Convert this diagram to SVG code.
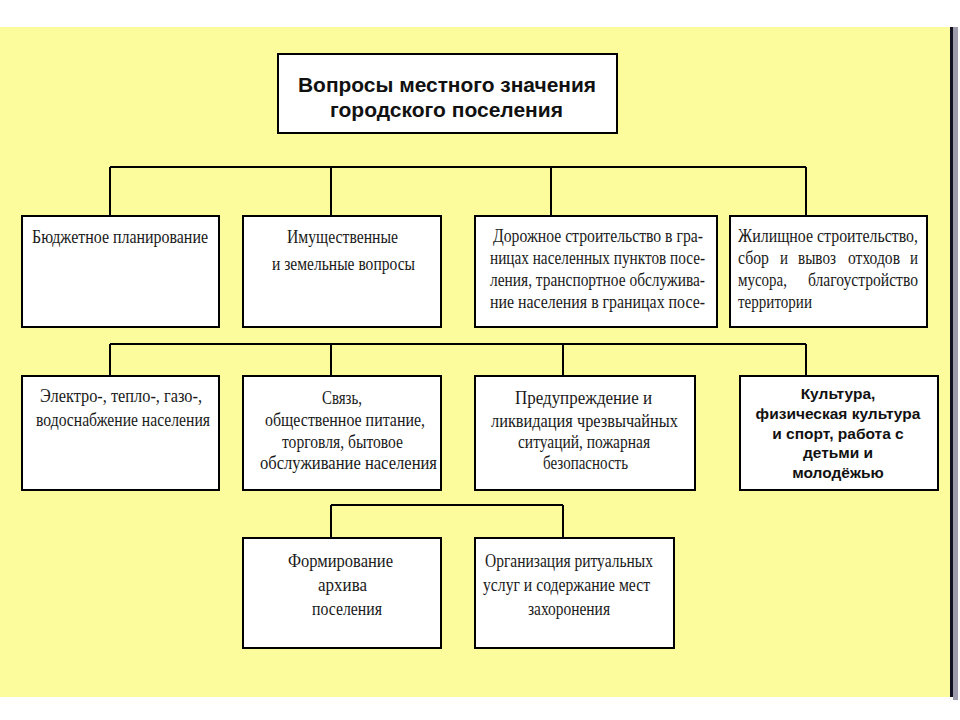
<svg xmlns="http://www.w3.org/2000/svg" width="960" height="720" viewBox="0 0 960 720">
<style>
.box{fill:#ffffff;stroke:#000000;stroke-width:2}
.con{fill:none;stroke:#000000;stroke-width:2}
.s{font-family:"Liberation Serif","Times New Roman",serif;font-size:19px;fill:#1a1a1a}
.s2{font-family:"Liberation Serif","Times New Roman",serif;font-size:18px;fill:#1a1a1a}
.a{font-family:"Liberation Sans",Arial,sans-serif;font-weight:bold;fill:#111111}
</style>
<rect x="0" y="0" width="960" height="720" fill="#ffffff"/>
<rect x="0" y="27" width="951" height="670" fill="#fcfc9c"/>
<rect x="953" y="27" width="5" height="673" fill="#9c9cac"/>
<rect x="950" y="27" width="3" height="670" fill="#111122"/>

<g id="connectors">
<path class="con" d="M110,167 H806 M110,167 V216 M331,167 V216 M551,167 V216 M806,167 V216"/>
<path class="con" d="M110,344 H806 M110,344 V376 M331,344 V376 M563,344 V376 M806,344 V376"/>
<path class="con" d="M331,505 H563 M331,505 V538 M563,505 V538"/>
</g>

<g id="top">
<rect class="box" x="278" y="54" width="339" height="79"/>
<text class="a" font-size="20" x="298" y="92" textLength="298" lengthAdjust="spacingAndGlyphs">Вопросы местного значения</text>
<text class="a" font-size="20" x="330" y="117" textLength="233" lengthAdjust="spacingAndGlyphs">городского поселения</text>
</g>

<g id="b1">
<rect class="box" x="22" y="216" width="197" height="111"/>
<text class="s" x="32" y="243" textLength="176" lengthAdjust="spacingAndGlyphs">Бюджетное планирование</text>
</g>
<g id="b2">
<rect class="box" x="243" y="216" width="198" height="111"/>
<text class="s" x="287" y="243" textLength="111" lengthAdjust="spacingAndGlyphs">Имущественные</text>
<text class="s" x="272" y="270" textLength="143" lengthAdjust="spacingAndGlyphs">и земельные вопросы</text>
</g>
<g id="b3">
<rect class="box" x="475" y="216" width="242" height="111"/>
<text class="s2" x="493" y="242" textLength="210" lengthAdjust="spacingAndGlyphs">Дорожное строительство в гра-</text>
<text class="s2" x="490" y="264" textLength="215" lengthAdjust="spacingAndGlyphs">ницах населенных пунктов посе-</text>
<text class="s2" x="490" y="286" textLength="215" lengthAdjust="spacingAndGlyphs">ления, транспортное обслужива-</text>
<text class="s2" x="490" y="308" textLength="215" lengthAdjust="spacingAndGlyphs">ние населения в границах посе-</text>
</g>
<g id="b4">
<rect class="box" x="730" y="216" width="197" height="111"/>
<text class="s2" x="738" y="242" textLength="180" lengthAdjust="spacingAndGlyphs">Жилищное строительство,</text>
<text class="s2" x="738" y="264" textLength="31" lengthAdjust="spacingAndGlyphs">сбор</text>
<text class="s2" x="780" y="264" textLength="8" lengthAdjust="spacingAndGlyphs">и</text>
<text class="s2" x="798" y="264" textLength="38" lengthAdjust="spacingAndGlyphs">вывоз</text>
<text class="s2" x="848" y="264" textLength="52" lengthAdjust="spacingAndGlyphs">отходов</text>
<text class="s2" x="910" y="264" textLength="8" lengthAdjust="spacingAndGlyphs">и</text>
<text class="s2" x="738" y="286" textLength="49" lengthAdjust="spacingAndGlyphs">мусора,</text>
<text class="s2" x="808" y="286" textLength="110" lengthAdjust="spacingAndGlyphs">благоустройство</text>
<text class="s2" x="738" y="308" textLength="74" lengthAdjust="spacingAndGlyphs">территории</text>
</g>

<g id="c1">
<rect class="box" x="22" y="376" width="197" height="114"/>
<text class="s" x="40" y="402" textLength="162" lengthAdjust="spacingAndGlyphs">Электро-, тепло-, газо-,</text>
<text class="s" x="36" y="426" textLength="174" lengthAdjust="spacingAndGlyphs">водоснабжение населения</text>
</g>
<g id="c2">
<rect class="box" x="243" y="376" width="198" height="114"/>
<text class="s" x="322" y="404" textLength="40" lengthAdjust="spacingAndGlyphs">Связь,</text>
<text class="s" x="265" y="426" textLength="160" lengthAdjust="spacingAndGlyphs">общественное питание,</text>
<text class="s" x="282" y="448" textLength="121" lengthAdjust="spacingAndGlyphs">торговля, бытовое</text>
<text class="s" x="260" y="469" textLength="177" lengthAdjust="spacingAndGlyphs">обслуживание населения</text>
</g>
<g id="c3">
<rect class="box" x="475" y="376" width="220" height="114"/>
<text class="s" x="515" y="404" textLength="137" lengthAdjust="spacingAndGlyphs">Предупреждение и</text>
<text class="s" x="491" y="427" textLength="187" lengthAdjust="spacingAndGlyphs">ликвидация чрезвычайных</text>
<text class="s" x="518" y="448" textLength="132" lengthAdjust="spacingAndGlyphs">ситуаций, пожарная</text>
<text class="s" x="543" y="469" textLength="85" lengthAdjust="spacingAndGlyphs">безопасность</text>
</g>
<g id="c4">
<rect class="box" x="740" y="376" width="198" height="114"/>
<text class="a" font-size="15.5" x="838" y="399" text-anchor="middle">Культура,</text>
<text class="a" font-size="15.5" x="838" y="419" text-anchor="middle">физическая культура</text>
<text class="a" font-size="15.5" x="838" y="438.5" text-anchor="middle">и спорт, работа с</text>
<text class="a" font-size="15.5" x="838" y="458" text-anchor="middle">детьми и</text>
<text class="a" font-size="15.5" x="838" y="477.5" text-anchor="middle">молодёжью</text>
</g>

<g id="d1">
<rect class="box" x="243" y="538" width="198" height="110"/>
<text class="s" x="288" y="567" textLength="105" lengthAdjust="spacingAndGlyphs">Формирование</text>
<text class="s" x="318" y="591" textLength="49" lengthAdjust="spacingAndGlyphs">архива</text>
<text class="s" x="312" y="615" textLength="70" lengthAdjust="spacingAndGlyphs">поселения</text>
</g>
<g id="d2">
<rect class="box" x="475" y="538" width="199" height="110"/>
<text class="s" x="485" y="567" textLength="168" lengthAdjust="spacingAndGlyphs">Организация ритуальных</text>
<text class="s" x="483" y="591" textLength="167" lengthAdjust="spacingAndGlyphs">услуг и содержание мест</text>
<text class="s" x="528" y="615" textLength="82" lengthAdjust="spacingAndGlyphs">захоронения</text>
</g>
</svg>
